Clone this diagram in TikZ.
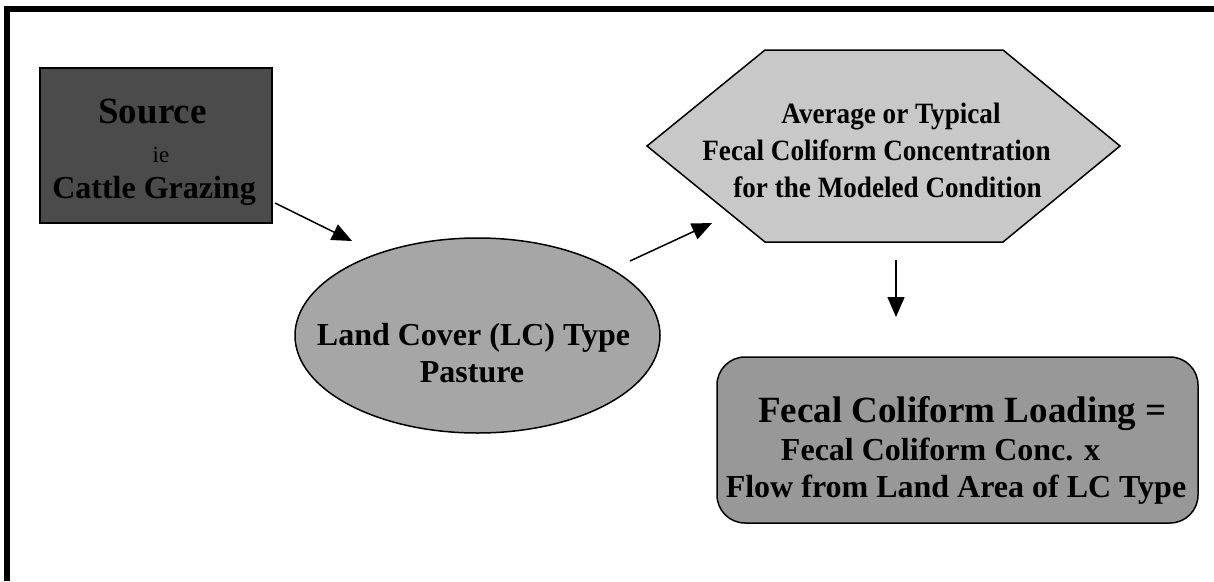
\documentclass[tikz,border=0pt]{standalone}
\usepackage{fontspec}
\setmainfont{Liberation Serif}
\usetikzlibrary{arrows.meta,shapes.geometric}
\definecolor{srcgray}{HTML}{4B4B4B}
\definecolor{hexgray}{HTML}{C8C8C8}
\definecolor{ellgray}{HTML}{A6A6A6}
\definecolor{loadgray}{HTML}{989898}
\newcommand{\hexline}[1]{\scalebox{0.92}[1]{#1}}
\begin{document}
\begin{tikzpicture}[x=1pt,y=-1pt,
  txt/.style={anchor=base,inner sep=0pt,outer sep=0pt,text=black},
  arr/.style={line width=1.5pt,-{Triangle[length=20pt,width=17pt]}},
  shapeline/.style={draw=black,line width=1.5pt},
  fbig/.style={font=\fontsize{37pt}{44pt}\selectfont\bfseries},
  fmid/.style={font=\fontsize{32pt}{38pt}\selectfont\bfseries},
  fhex/.style={font=\fontsize{29.5pt}{34pt}\selectfont\bfseries},
  fsmall/.style={font=\fontsize{23pt}{27pt}\selectfont}]
\useasboundingbox (0,0) rectangle (1214,581);
\fill[white] (0,0) rectangle (1214,581);
\draw[line width=6pt] (7,581) -- (7,9) -- (1214,9);

% shapes
\node[shapeline, fill=srcgray, rectangle, inner sep=0pt, outer sep=0pt,
  minimum width=232pt, minimum height=155pt] (src) at (156,145.5) {};
\node[shapeline, fill=ellgray, ellipse, inner sep=0pt, outer sep=0pt,
  minimum width=365pt, minimum height=195pt] (ell) at (477.5,335.5) {};
\node[inner sep=0pt, outer sep=0pt, minimum width=473pt, minimum height=192pt] (hex) at (883.5,146) {};
\draw[shapeline, fill=hexgray] (hex.west) -- ([shift={(118,0)}]hex.north west)
  -- ([shift={(-117,0)}]hex.north east) -- (hex.east)
  -- ([shift={(-117,0)}]hex.south east) -- ([shift={(118,0)}]hex.south west) -- cycle;
\node[shapeline, fill=loadgray, rectangle, rounded corners=28pt, inner sep=0pt, outer sep=0pt,
  minimum width=481pt, minimum height=166pt] (load) at (957.5,440) {};

% texts
\node[txt, fbig] (s1) at (152.5,123) {Source};
\node[txt, fsmall] (s2) at (161,162) {ie};
\node[txt, fmid] (s3) at (154,198) {Cattle Grazing};

\node[txt, fmid] (e1) at (473.5,345) {Land Cover (LC) Type};
\node[txt, fmid] (e2) at (472,382) {Pasture};

\node[txt, fhex] (h1) at (891,123) {\hexline{Average or Typical}};
\node[txt, fhex] (h2) at (876.5,160) {\hexline{Fecal Coliform Concentration}};
\node[txt, fhex] (h3) at (887.5,197) {\hexline{for the Modeled Condition}};

\node[txt, fbig] (l1) at (962.5,422) {Fecal Coliform Loading =};
\node[txt, fmid] (l2) at (940.5,460) {Fecal Coliform Conc. x};
\node[txt, fmid] (l3) at (956,497) {Flow from Land Area of LC Type};

% connectors
\draw[arr] ([shift={(3,-20)}]src.south east) -- ([shift={(-125.5,-94.5)}]ell.center);
\draw[arr] ([shift={(152.5,-74.5)}]ell.center) -- ([shift={(-171.5,77)}]hex.center);
\draw[arr] ([shift={(12.5,18)}]hex.south) -- ([shift={(-61.5,-40)}]load.north);
\end{tikzpicture}
\end{document}
